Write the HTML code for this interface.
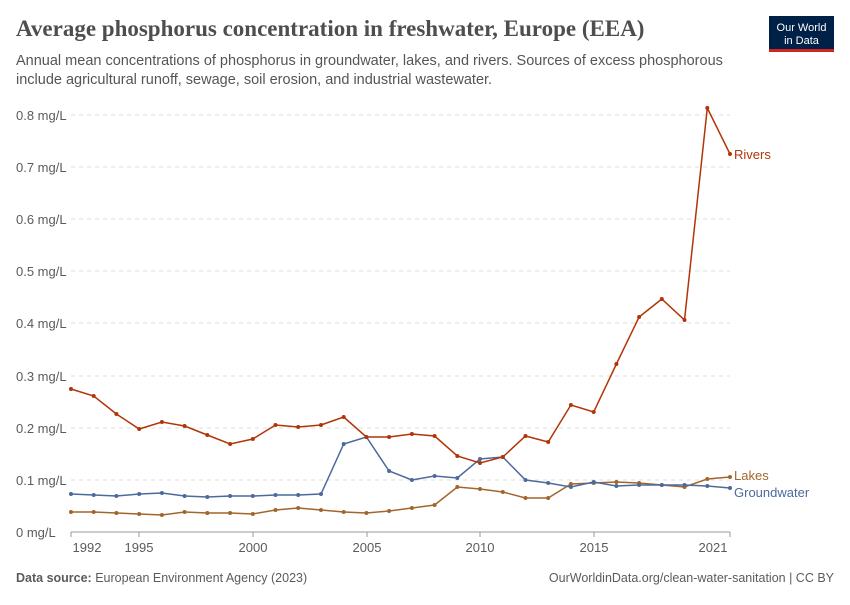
<!DOCTYPE html>
<html><head><meta charset="utf-8"><style>
body{margin:0;background:#fff;width:850px;height:600px;overflow:hidden;font-family:"Liberation Sans",sans-serif}
</style></head><body>
<svg width="850" height="600" xmlns="http://www.w3.org/2000/svg" font-family="Liberation Sans, sans-serif">
<text x="16" y="36" font-family="Liberation Serif, serif" font-size="23" font-weight="bold" fill="#4e4e4e">Average phosphorus concentration in freshwater, Europe (EEA)</text>
<text x="16" y="65" font-size="14.5" fill="#555">Annual mean concentrations of phosphorus in groundwater, lakes, and rivers. Sources of excess phosphorous</text>
<text x="16" y="84" font-size="14.5" fill="#555">include agricultural runoff, sewage, soil erosion, and industrial wastewater.</text>
<rect x="769" y="16" width="65" height="36" fill="#002147"/>
<rect x="769" y="49" width="65" height="3" fill="#ce261e"/>
<text x="801.5" y="31" font-size="11" fill="#fff" text-anchor="middle">Our World</text>
<text x="801.5" y="44" font-size="11" fill="#fff" text-anchor="middle">in Data</text>
<g stroke="#ddd" stroke-dasharray="4,4">
<line x1="71" x2="730" y1="115" y2="115"/><line x1="71" x2="730" y1="167" y2="167"/><line x1="71" x2="730" y1="219" y2="219"/><line x1="71" x2="730" y1="271" y2="271"/><line x1="71" x2="730" y1="323" y2="323"/><line x1="71" x2="730" y1="376" y2="376"/><line x1="71" x2="730" y1="428" y2="428"/><line x1="71" x2="730" y1="480" y2="480"/>
</g>
<line x1="71" x2="730" y1="532" y2="532" stroke="#999"/>
<g font-size="13" fill="#5b5b5b">
<text x="16" y="120">0.8 mg/L</text><text x="16" y="172">0.7 mg/L</text><text x="16" y="224">0.6 mg/L</text><text x="16" y="276">0.5 mg/L</text><text x="16" y="328">0.4 mg/L</text><text x="16" y="381">0.3 mg/L</text><text x="16" y="433">0.2 mg/L</text><text x="16" y="485">0.1 mg/L</text><text x="16" y="537">0 mg/L</text>
</g>
<g font-size="13" fill="#5b5b5b" text-anchor="middle">
<text x="87" y="552">1992</text><text x="139" y="552">1995</text><text x="253" y="552">2000</text><text x="367" y="552">2005</text><text x="480" y="552">2010</text><text x="594" y="552">2015</text><text x="713" y="552">2021</text>
</g>
<g stroke="#999"><line x1="71" x2="71" y1="532" y2="537"/><line x1="139" x2="139" y1="532" y2="537"/><line x1="253" x2="253" y1="532" y2="537"/><line x1="367" x2="367" y1="532" y2="537"/><line x1="480" x2="480" y1="532" y2="537"/><line x1="594" x2="594" y1="532" y2="537"/><line x1="730" x2="730" y1="532" y2="537"/></g>
<g id="series"></g>
<text x="734" y="159" font-size="13" fill="#b13507">Rivers</text>
<text x="734" y="480" font-size="13" fill="#a2662c">Lakes</text>
<text x="734" y="497" font-size="13" fill="#4c6a9c">Groundwater</text>
<text x="16" y="582" font-size="12.5" fill="#5b5b5b"><tspan font-weight="bold">Data source:</tspan> European Environment Agency (2023)</text>
<text x="834" y="582" font-size="12.5" fill="#5b5b5b" text-anchor="end">OurWorldinData.org/clean-water-sanitation | CC BY</text>
</svg>
<script>
var R=[389,396,414,429,422,426,435,444,439,425,427,425,417,437,437,434,436,456,463,457,436,442,405,412,364,317,299,320,108,154];
var G=[494,495,496,494,493,496,497,496,496,495,495,494,444,437,471,480,476,478,459,457,480,483,487,482,486,485,485,485,486,488];
var L=[512,512,513,514,515,512,513,513,514,510,508,510,512,513,511,508,505,487,489,492,498,498,484,483,482,483,485,487,479,477];
var g=document.getElementById('series'),s='';
function draw(d,c){var p=d.map(function(y,i){return (71+i*22.724).toFixed(1)+','+y}).join(' ');
s+='<polyline points="'+p+'" fill="none" stroke="'+c+'" stroke-width="1.5"/>';
d.forEach(function(y,i){s+='<circle cx="'+(71+i*22.724).toFixed(1)+'" cy="'+y+'" r="2" fill="'+c+'"/>'});}
draw(L,'#a2662c');draw(G,'#4c6a9c');draw(R,'#b13507');
g.innerHTML=s;
</script>
</body></html>
